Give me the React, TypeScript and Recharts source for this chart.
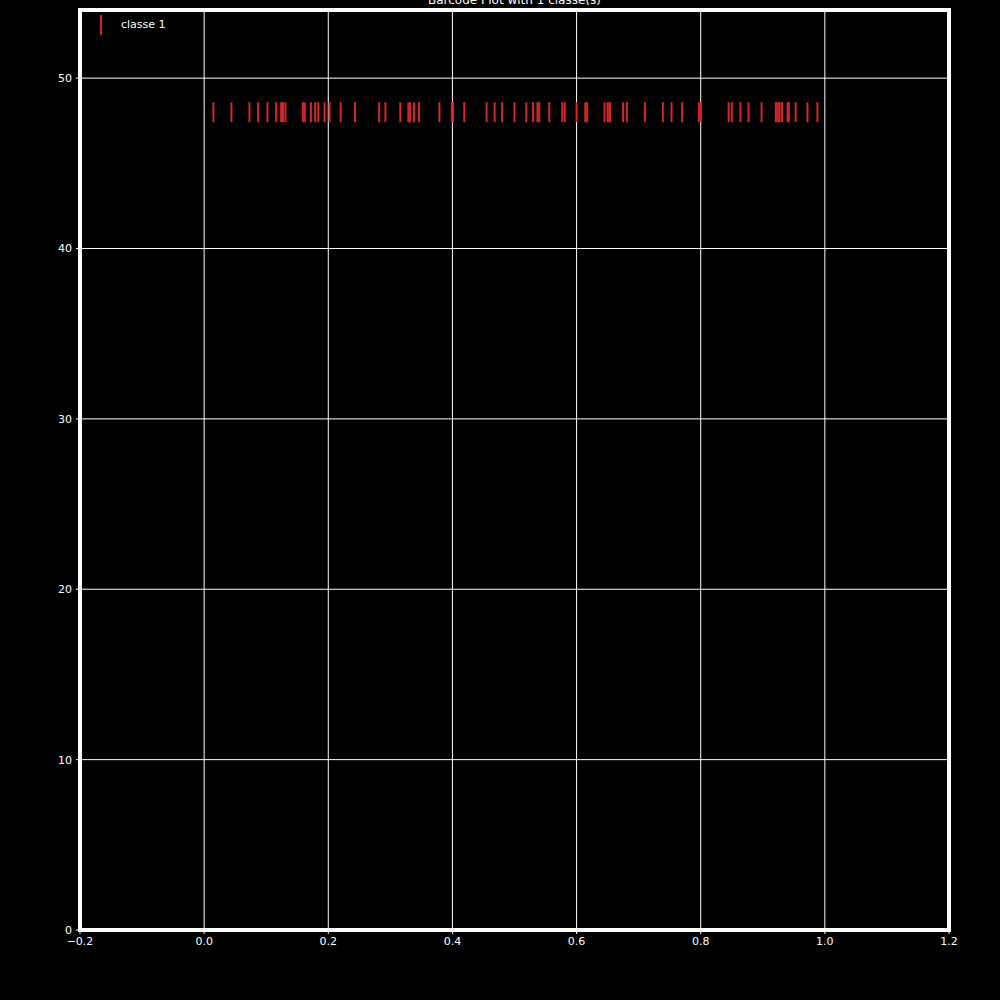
import React from "react";
import {
  ScatterChart,
  Scatter,
  XAxis,
  YAxis,
  CartesianGrid,
  ReferenceArea,
} from "recharts";

// positions of the barcode ticks for "classe 1"
const barcodeX = [
  0.015, 0.044, 0.073, 0.087, 0.102, 0.116, 0.124, 0.127, 0.131, 0.159, 0.162,
  0.172, 0.179, 0.184, 0.194, 0.202, 0.22, 0.243, 0.282, 0.292, 0.316, 0.329,
  0.332, 0.338, 0.346, 0.379, 0.399, 0.401, 0.419, 0.455, 0.468, 0.48, 0.5,
  0.519, 0.53, 0.537, 0.54, 0.556, 0.577, 0.581, 0.6, 0.614, 0.617, 0.645,
  0.65, 0.653, 0.654, 0.675, 0.681, 0.71, 0.739, 0.753, 0.77, 0.797, 0.8,
  0.845, 0.85, 0.864, 0.877, 0.898, 0.921, 0.924, 0.927, 0.931, 0.94, 0.942,
  0.953, 0.972, 0.988,
];
const classLevel = 48;
const seriesName = "classe 1";

const xTicks = [-0.2, 0, 0.2, 0.4, 0.6, 0.8, 1.0, 1.2];
const yTicks = [0, 10, 20, 30, 40, 50];

const RED = "#d62728";
const FONT = "'DejaVu Sans', sans-serif";

const data = barcodeX.map((x) => ({ x, y: classLevel }));

const fmtX = (v: number) =>
  v < 0 ? "\u2212" + Math.abs(v).toFixed(1) : v.toFixed(1);

const BarMark = (props: any) => {
  const { cx, cy } = props;
  return (
    <line x1={cx} x2={cx} y1={cy - 10} y2={cy + 10} stroke={RED} strokeWidth={2} />
  );
};

// legend drawn as an overlay so it doesn't eat into the plot area
const LegendBox = () => (
  <div
    style={{
      position: "absolute",
      left: 91,
      top: 15,
      width: 120,
      height: 24,
      fontFamily: FONT,
    }}
  >
    <div
      style={{
        position: "absolute",
        left: 9,
        top: 0,
        width: 2,
        height: 20,
        background: RED,
      }}
    />
    <div
      style={{
        position: "absolute",
        left: 30,
        top: 3,
        fontSize: 11,
        color: "#fff",
        lineHeight: "14px",
      }}
    >
      {seriesName}
    </div>
  </div>
);

export default function App() {
  return (
    <div
      style={{
        position: "absolute",
        left: 0,
        top: 0,
        width: 1000,
        height: 1000,
        background: "#000",
        overflow: "hidden",
      }}
    >
      <div
        style={{
          position: "absolute",
          left: 80,
          width: 869,
          top: -7,
          textAlign: "center",
          fontFamily: FONT,
          fontSize: 12,
          lineHeight: "14px",
          color: "#fff",
        }}
      >
        Barcode Plot with 1 classe(s)
      </div>
      <ScatterChart
        width={1000}
        height={1000}
        margin={{ top: 10, right: 51, left: 50, bottom: 40 }}
      >
        <CartesianGrid stroke="#fff" strokeWidth={1} />
        <XAxis
          type="number"
          dataKey="x"
          domain={[-0.2, 1.2]}
          ticks={xTicks}
          tickFormatter={fmtX}
          height={30}
          axisLine={false}
          tickLine={{ stroke: "#fff" }}
          tickSize={4}
          tickMargin={3}
          tick={{ fill: "#fff", fontSize: 11, fontFamily: FONT }}
          interval={0}
        />
        <YAxis
          type="number"
          dataKey="y"
          domain={[0, 54]}
          ticks={yTicks}
          width={30}
          axisLine={false}
          tickLine={{ stroke: "#fff" }}
          tickSize={4}
          tickMargin={4}
          tick={{ fill: "#fff", fontSize: 11, fontFamily: FONT }}
          interval={0}
        />
        <ReferenceArea
          x1={-0.2}
          x2={1.2}
          y1={0}
          y2={54}
          fill="none"
          fillOpacity={0}
          stroke="#fff"
          strokeWidth={4}
        />
        <Scatter
          name={seriesName}
          data={data}
          fill={RED}
          shape={BarMark}
          isAnimationActive={false}
        />
      </ScatterChart>
      <LegendBox />
    </div>
  );
}
